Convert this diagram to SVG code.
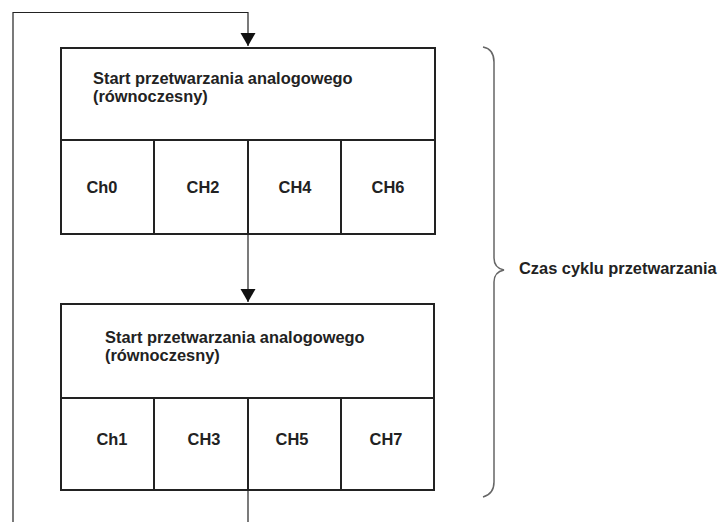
<svg xmlns="http://www.w3.org/2000/svg" width="718" height="522" viewBox="0 0 718 522">
<style>
  .box { fill: #fff; stroke: #222; stroke-width: 2; }
  .div { stroke: #222; stroke-width: 2; fill: none; }
  .conn { stroke: #222; stroke-width: 1.2; fill: none; }
  .brace { stroke: #666; stroke-width: 1.5; fill: none; }
  text { font-family: "Liberation Sans", Arial, sans-serif; font-weight: bold; font-size: 16.4px; fill: #222; }
  .c { text-anchor: middle; }
</style>
<defs>
  <marker id="arr" markerUnits="userSpaceOnUse" markerWidth="16" markerHeight="16" refX="13" refY="7.5" orient="auto">
    <path d="M0,0 L13,7.5 L0,15 Z" fill="#111"/>
  </marker>
</defs>
<rect width="718" height="522" fill="#fff"/>
<g id="connectors">
  <path class="conn" d="M13,522 L13,12.5 L248,12.5 L248,46" marker-end="url(#arr)"/>
  <path class="conn" d="M248,234 L248,302" marker-end="url(#arr)"/>
  <path class="conn" d="M248,490 L248,522"/>
</g>
<g id="block1">
  <rect class="box" x="61" y="48" width="374" height="186"/>
  <path class="div" d="M61,140 H435 M154,140 V234 M248,140 V234 M341,140 V234"/>
  <text x="93" y="84">Start przetwarzania analogowego</text>
  <text x="93" y="102">(równoczesny)</text>
  <text class="c" x="102" y="193">Ch0</text>
  <text class="c" x="203" y="193">CH2</text>
  <text class="c" x="295" y="193">CH4</text>
  <text class="c" x="388" y="193">CH6</text>
</g>
<g id="block2">
  <rect class="box" x="61" y="304" width="373" height="186"/>
  <path class="div" d="M61,398 H434 M154,398 V490 M248,398 V490 M341,398 V490"/>
  <text x="105" y="343">Start przetwarzania analogowego</text>
  <text x="105" y="361">(równoczesny)</text>
  <text class="c" x="112" y="445">Ch1</text>
  <text class="c" x="204" y="445">CH3</text>
  <text class="c" x="292" y="445">CH5</text>
  <text class="c" x="386" y="445">CH7</text>
</g>
<g id="cycle">
  <path class="brace" d="M483,47 Q494,49 494,62 L494,258 Q494,268 504,270 Q494,272 494,282 L494,482 Q494,494 483,497"/>
  <text x="519" y="274">Czas cyklu przetwarzania</text>
</g>
</svg>
